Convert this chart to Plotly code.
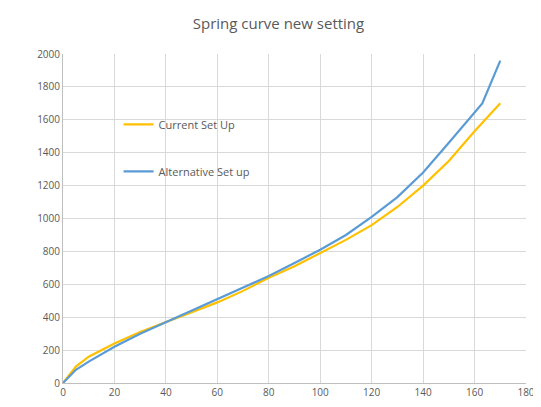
import plotly.graph_objects as go

x_current = [0, 5, 10, 20, 30, 40, 50, 60, 70, 80, 90, 100, 110, 120, 130, 140, 150, 160, 170]
y_current = [0, 100, 160, 240, 310, 370, 430, 490, 560, 640, 710, 790, 870, 960, 1070, 1200, 1350, 1530, 1700]

x_alt = [0, 5, 10, 20, 30, 40, 50, 60, 70, 80, 90, 100, 110, 120, 130, 140, 150, 157, 163, 170]
y_alt = [0, 80, 130, 220, 300, 370, 440, 510, 580, 650, 730, 810, 900, 1010, 1130, 1280, 1460, 1590, 1700, 1960]

fig = go.Figure()
fig.add_trace(go.Scatter(x=x_current, y=y_current, mode="lines", name="Current Set Up",
                         legendgroup="a", line=dict(color="#FFC000", width=2.2)))
fig.add_trace(go.Scatter(x=x_alt, y=y_alt, mode="lines", name="Alternative Set up",
                         legendgroup="b", line=dict(color="#5B9BD5", width=2.2)))

axis = dict(showgrid=True, gridcolor="#D9D9D9", zeroline=False, showline=True,
            linecolor="#BFBFBF", ticks="", tickfont=dict(size=10, color="#595959"))
fig.update_layout(
    width=541, height=407,
    title=dict(text="Spring curve new setting", x=0.5, y=0.975, yanchor="top",
               font=dict(family="Open Sans", size=15, color="#595959")),
    font=dict(family="Open Sans"),
    plot_bgcolor="white", paper_bgcolor="white",
    margin=dict(l=55, r=23, t=46, b=32),
    xaxis=dict(range=[0, 180], dtick=20, **axis),
    yaxis=dict(range=[0, 2000], dtick=200, **axis),
    legend=dict(x=0.12, y=0.83, xanchor="left", yanchor="top", tracegroupgap=28,
                font=dict(size=11, color="#595959"), bgcolor="rgba(0,0,0,0)"),
)
fig.write_html("out.html")
